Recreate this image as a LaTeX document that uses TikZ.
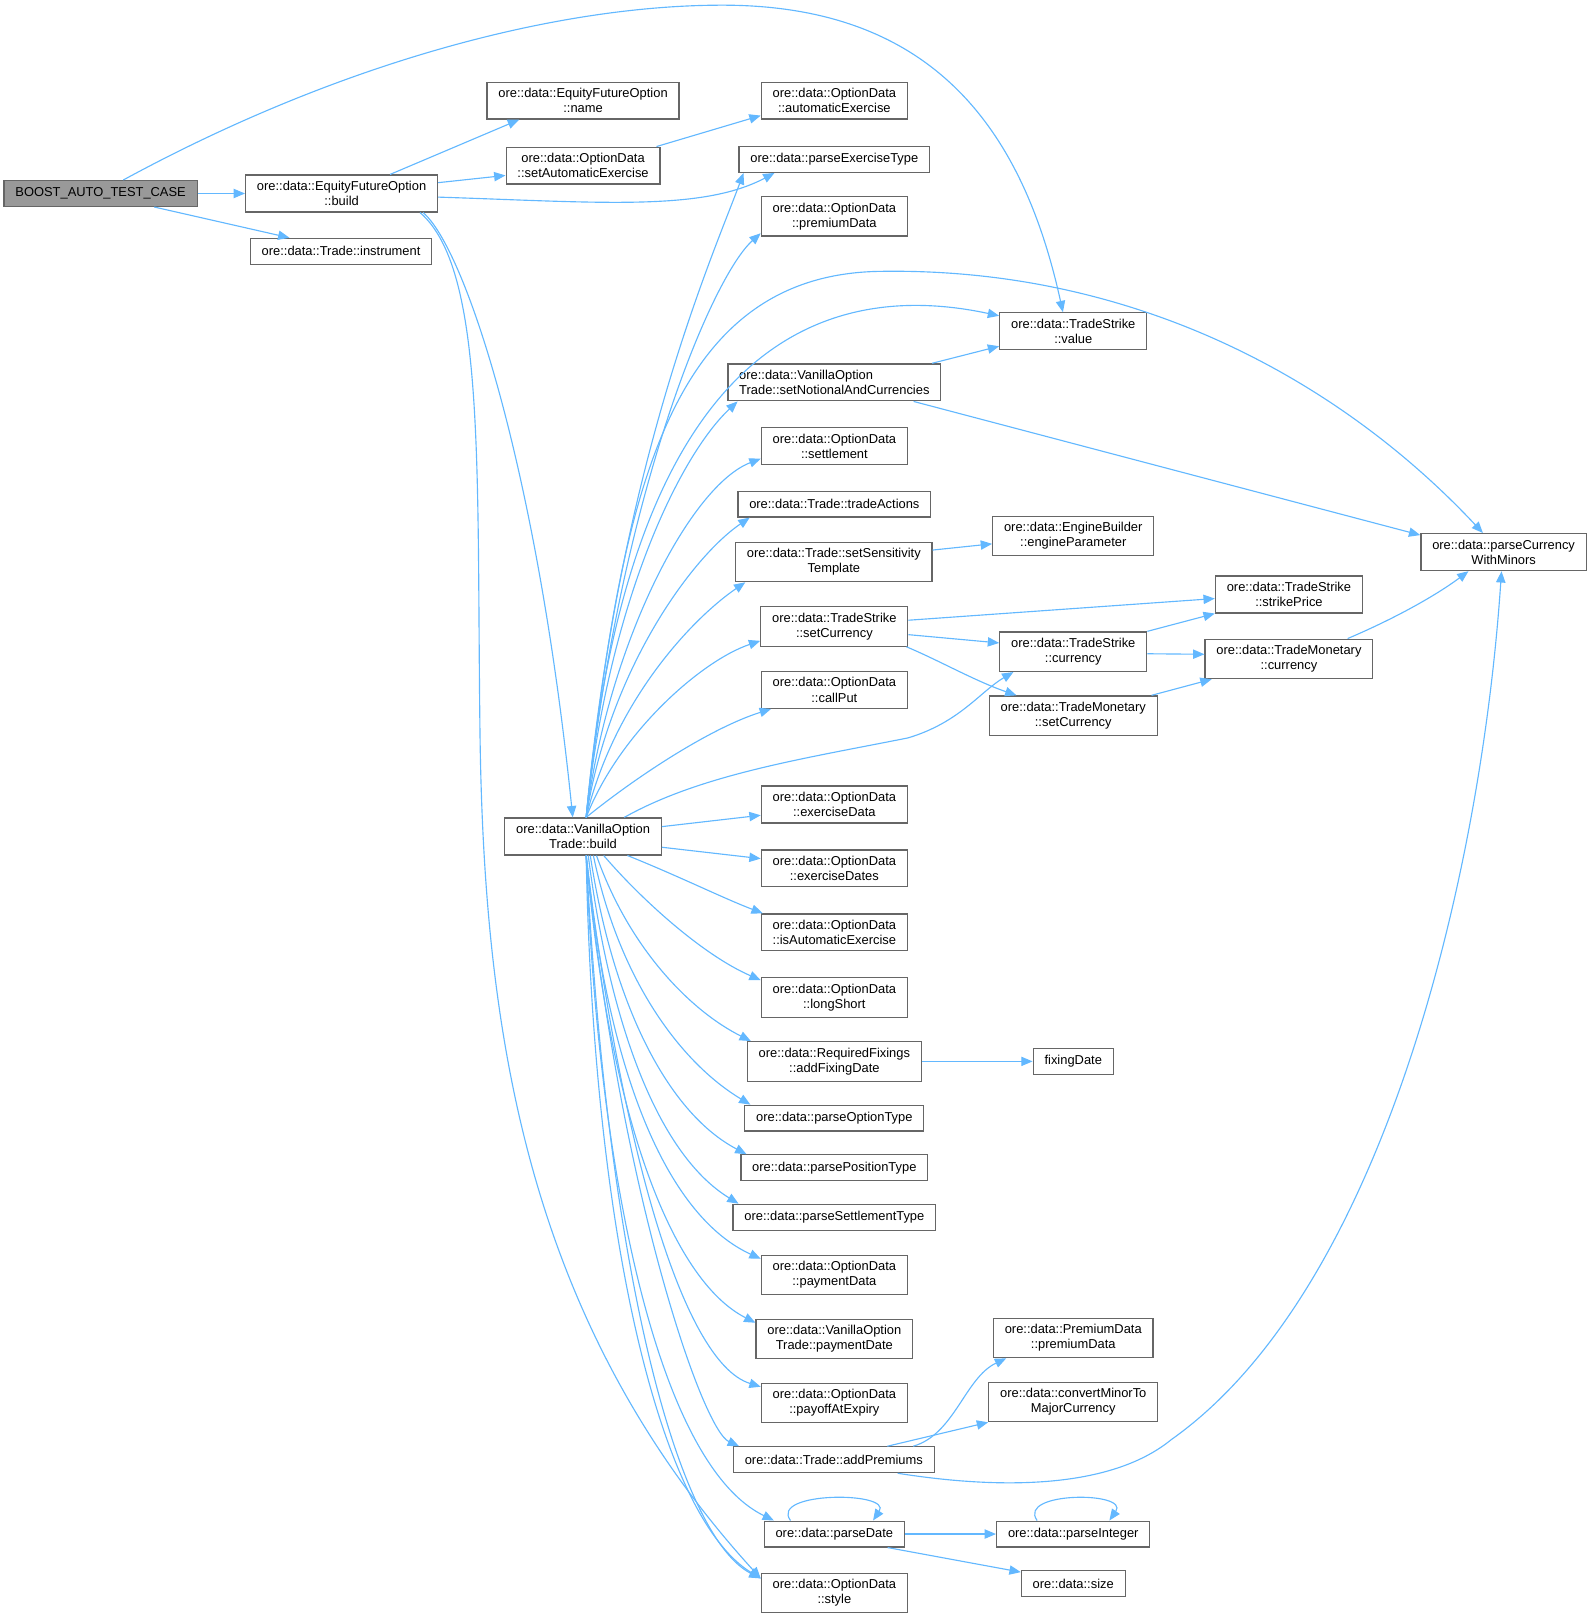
\documentclass[tikz,border=0pt]{standalone}
\usepackage{fontspec}
\setmainfont{Liberation Sans}
\usetikzlibrary{arrows.meta}
\definecolor{edgeblue}{HTML}{63B8FF}
\definecolor{boxgray}{HTML}{666666}
\definecolor{rootgray}{HTML}{999999}
\tikzset{
  fn/.style={draw=boxgray, line width=0.6pt, fill=white, align=center,
    inner xsep=5.5pt, inner ysep=3pt, minimum height=12.5pt,
    font=\fontsize{6.25}{7.3}\selectfont},
  root/.style={fn, fill=rootgray},
  call/.style={draw=edgeblue, line width=0.55pt, -{Triangle[length=5.5pt,width=4.5pt]}},
}
\begin{document}
\begin{tikzpicture}[x=0.5pt,y=0.5pt]
  \useasboundingbox (0,0) rectangle (1539,-1564);
  % left column
  \node[root] (boost) at (97.5,-187.5) {BOOST\_AUTO\_TEST\_CASE};
  \node[fn] (efobuild) at (331,-187.5) {ore::data::EquityFutureOption\\::build};
  \node[fn] (instr) at (330.5,-243.5) {ore::data::Trade::instrument};
  \node[fn] (efoname) at (565,-97.5) {ore::data::EquityFutureOption\\::name};
  \node[fn] (setauto) at (565,-160.5) {ore::data::OptionData\\::setAutomaticExercise};
  \node[fn] (vobuild) at (565,-810.5) {ore::data::VanillaOption\\Trade::build};
  % middle column
  \node[fn] (autoex) at (808.5,-97.5) {ore::data::OptionData\\::automaticExercise};
  \node[fn] (parseex) at (808.5,-154.5) {ore::data::parseExerciseType};
  \node[fn] (premdata) at (808.5,-209.5) {ore::data::OptionData\\::premiumData};
  \node[fn, align=left] (setnot) at (808.5,-370.5) {ore::data::VanillaOption\\Trade::setNotionalAndCurrencies};
  \node[fn] (settle) at (808.5,-432.5) {ore::data::OptionData\\::settlement};
  \node[fn] (tradeact) at (808.5,-488.5) {ore::data::Trade::tradeActions};
  \node[fn] (setsens) at (808,-544.5) {ore::data::Trade::setSensitivity\\Template};
  \node[fn] (tssetcur) at (808.5,-607) {ore::data::TradeStrike\\::setCurrency};
  \node[fn] (callput) at (808.5,-668.5) {ore::data::OptionData\\::callPut};
  \node[fn] (exdata) at (808.5,-779.5) {ore::data::OptionData\\::exerciseData};
  \node[fn] (exdates) at (808.5,-841.5) {ore::data::OptionData\\::exerciseDates};
  \node[fn] (isauto) at (808.5,-903.5) {ore::data::OptionData\\::isAutomaticExercise};
  \node[fn] (longshort) at (808.5,-966.5) {ore::data::OptionData\\::longShort};
  \node[fn] (addfix) at (808.5,-1028.5) {ore::data::RequiredFixings\\::addFixingDate};
  \node[fn] (poptype) at (808.5,-1083.5) {ore::data::parseOptionType};
  \node[fn] (ppostype) at (808.5,-1131.5) {ore::data::parsePositionType};
  \node[fn] (psettype) at (808.5,-1179.5) {ore::data::parseSettlementType};
  \node[fn] (paydata) at (808.5,-1235.5) {ore::data::OptionData\\::paymentData};
  \node[fn] (paydate) at (808.5,-1297.5) {ore::data::VanillaOption\\Trade::paymentDate};
  \node[fn] (payoff) at (808.5,-1359.5) {ore::data::OptionData\\::payoffAtExpiry};
  \node[fn] (addprem) at (808,-1414.5) {ore::data::Trade::addPremiums};
  \node[fn] (pdate) at (808.5,-1486.5) {ore::data::parseDate};
  \node[fn] (style) at (808.5,-1543.5) {ore::data::OptionData\\::style};
  % right columns
  \node[fn] (tsvalue) at (1040,-321) {ore::data::TradeStrike\\::value};
  \node[fn] (engpar) at (1040,-519.5) {ore::data::EngineBuilder\\::engineParameter};
  \node[fn] (tscur) at (1040,-631.5) {ore::data::TradeStrike\\::currency};
  \node[fn] (tmsetcur) at (1040,-693.5) {ore::data::TradeMonetary\\::setCurrency};
  \node[fn] (fixdate) at (1040,-1028.5) {fixingDate};
  \node[fn] (pdprem) at (1040,-1296.5) {ore::data::PremiumData\\::premiumData};
  \node[fn] (convmin) at (1040,-1358.5) {ore::data::convertMinorTo\\MajorCurrency};
  \node[fn] (pint) at (1040,-1486.5) {ore::data::parseInteger};
  \node[fn] (size) at (1040,-1534.5) {ore::data::size};
  \node[fn] (tsstrike) at (1249,-576) {ore::data::TradeStrike\\::strikePrice};
  \node[fn] (tmcur) at (1249,-638.5) {ore::data::TradeMonetary\\::currency};
  \node[fn] (pcwm) at (1457,-535) {ore::data::parseCurrency\\WithMinors};

  % calls from the test case
  \draw[call] (boost) -- (efobuild);
  \draw[call] ([xshift=26pt]boost.south) -- ([xshift=-25pt]instr.north);
  \draw[call] ([xshift=11pt]boost.north) .. controls (330,-60) and (540,-5) .. (700,-5)
    .. controls (900,-5) and (990,-120) .. ([xshift=-5pt]tsvalue.north);
  % calls from EquityFutureOption::build
  \draw[call] ([xshift=23.5pt]efobuild.north) -- ([xshift=-31pt]efoname.south);
  \draw[call] ([yshift=5.25pt]efobuild.east) -- ([yshift=-4.75pt]setauto.west);
  \draw[call] ([yshift=-1.75pt]efobuild.east) .. controls (580,-196) and (680,-205) .. ([xshift=-29pt]parseex.south);
  \draw[call] ([xshift=39.5pt]efobuild.south) .. controls (450,-240) and (520,-450) .. ([xshift=-5pt]vobuild.north);
  \draw[call] ([xshift=38pt]efobuild.south) .. controls (470,-260) and (462,-450) .. (465,-700)
    .. controls (468,-1000) and (510,-1280) .. ([yshift=7pt]style.west);
  \draw[call] ([xshift=-2pt]setauto.north east) -- ([yshift=2pt]autoex.south west);
  % calls from VanillaOptionTrade::build, upwards
  \coordinate (vtop) at ([xshift=1.5pt]vobuild.north);
  \coordinate (vbot) at ([xshift=1.5pt]vobuild.south);
  \draw[call] (vtop) .. controls (600,-450) and (690,-250) .. ([xshift=-44pt]parseex.south);
  \draw[call] (vtop) .. controls (600,-480) and (690,-268) .. ([yshift=-8.25pt]premdata.west);
  \draw[call] (vtop) .. controls (610,-330) and (800,-270) .. ([yshift=7.5pt]tsvalue.west);
  \draw[call] (vtop) .. controls (600,-500) and (640,-268) .. (850,-263)
    .. controls (1100,-258) and (1300,-370) .. ([xshift=-10pt]pcwm.north);
  \draw[call] (vtop) .. controls (590,-580) and (660,-440) .. ([xshift=5pt]setnot.south west);
  \draw[call] (vtop) .. controls (590,-620) and (670,-470) .. ([yshift=-6pt]settle.west);
  \draw[call] (vtop) .. controls (590,-650) and (670,-540) .. ([xshift=6pt]tradeact.south west);
  \draw[call] (vtop) .. controls (595,-680) and (670,-600) .. ([xshift=5pt]setsens.south west);
  \draw[call] (vtop) .. controls (600,-710) and (680,-640) .. ([yshift=-7pt]tssetcur.west);
  \draw[call] (vtop) .. controls (620,-750) and (690,-705) .. ([xshift=5pt]callput.south west);
  \draw[call] ([xshift=20pt]vobuild.north) .. controls (680,-750) and (780,-735) .. (880,-715)
    .. controls (930,-700) and (950,-670) .. ([xshift=-29pt]tscur.south);
  % sideways and downwards
  \draw[call] ([yshift=4.75pt]vobuild.east) -- ([yshift=-5.25pt]exdata.west);
  \draw[call] ([yshift=-5.25pt]vobuild.east) -- ([yshift=4.75pt]exdates.west);
  \draw[call] ([xshift=21.5pt]vobuild.south) .. controls (660,-850) and (700,-870) .. ([xshift=1pt]isauto.north west);
  \draw[call] ([xshift=10pt]vobuild.south) .. controls (620,-870) and (680,-925) .. ([yshift=-1.5pt]longshort.north west);
  \draw[call] ([xshift=6.5pt]vobuild.south) .. controls (610,-920) and (670,-980) .. ([xshift=2pt]addfix.north west);
  \draw[call] ([xshift=5pt]vobuild.south) .. controls (600,-950) and (660,-1030) .. ([xshift=3pt]poptype.north west);
  \draw[call] ([xshift=3.5pt]vobuild.south) .. controls (595,-980) and (650,-1080) .. ([xshift=3pt]ppostype.north west);
  \draw[call] ([xshift=2.5pt]vobuild.south) .. controls (592,-1000) and (640,-1120) .. ([xshift=3pt]psettype.north west);
  \draw[call] (vbot) .. controls (590,-1050) and (650,-1180) .. ([yshift=-2pt]paydata.north west);
  \draw[call] (vbot) .. controls (590,-1080) and (650,-1240) .. ([yshift=-2pt]paydate.north west);
  \draw[call] (vbot) .. controls (600,-1100) and (660,-1320) .. ([yshift=-2pt]payoff.north west);
  \draw[call] (vbot) .. controls (600,-1150) and (680,-1385) .. ([xshift=3pt]addprem.north west);
  \draw[call] (vbot) .. controls (580,-1150) and (640,-1420) .. ([xshift=5pt]pdate.north west);
  \draw[call] (vbot) .. controls (575,-1200) and (640,-1470) .. ([yshift=7pt]style.west);
  \draw[call] (vbot) .. controls (590,-1250) and (660,-1490) .. ([yshift=7pt]style.west);
  % further calls
  \draw[call] ([xshift=-4.5pt]setnot.north east) -- ([yshift=2pt]tsvalue.south west);
  \draw[call] ([xshift=-13.5pt]setnot.south east) -- ([yshift=-1pt]pcwm.north west);
  \draw[call] ([yshift=5.75pt]setsens.east) -- ([yshift=-3.75pt]engpar.west);
  \draw[call] ([yshift=3pt]tssetcur.east) -- ([yshift=-2pt]tsstrike.west);
  \draw[call] ([yshift=-4pt]tssetcur.east) -- ([yshift=4.25pt]tscur.west);
  \draw[call] ([xshift=-1pt]tssetcur.south east) .. controls (910,-640) and (945,-660) .. ([xshift=-27.5pt]tmsetcur.north);
  \draw[call] (tscur.north east) -- (tsstrike.south west);
  \draw[call] ([yshift=-1pt]tscur.east) -- ([yshift=2.25pt]tmcur.west);
  \draw[call] ([xshift=-3pt]tmsetcur.north east) -- ([xshift=3.5pt]tmcur.south west);
  \draw[call] ([xshift=-12.5pt]tmcur.north east) .. controls (1350,-600) and (1390,-578) .. ([xshift=-17pt]pcwm.south);
  \draw[call] (addfix) -- (fixdate);
  \draw[call] ([xshift=-10.5pt]addprem.north east) .. controls (925,-1390) and (935,-1335) .. ([xshift=6.5pt]pdprem.south west);
  \draw[call] ([xshift=-23pt]addprem.north east) -- (convmin.south west);
  \draw[call] ([xshift=-18pt]addprem.south east) .. controls (980,-1445) and (1080,-1440) .. (1135,-1395)
    .. controls (1340,-1250) and (1435,-850) .. ([xshift=-1pt]pcwm.south);
  \draw[call] ([xshift=-21.25pt]pdate.north) .. controls (745,-1445) and (865,-1445) .. ([xshift=18.75pt]pdate.north);
  \draw[call] (pdate) -- (pint);
  \draw[call] ([xshift=-8.5pt]pdate.south east) -- ([yshift=-1pt]size.north west);
  \draw[call] ([xshift=-17.5pt]pint.north) .. controls (985,-1445) and (1095,-1445) .. ([xshift=17.5pt]pint.north);
\end{tikzpicture}
\end{document}
